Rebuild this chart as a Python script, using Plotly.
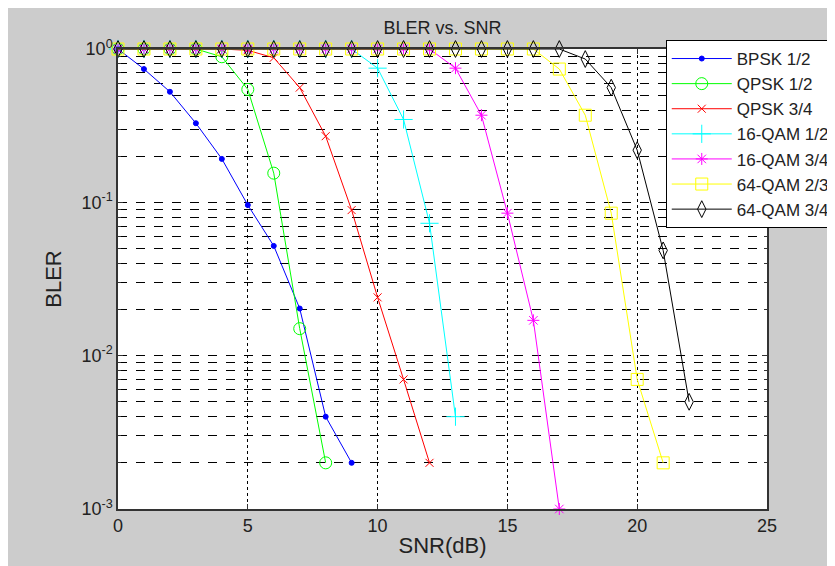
import plotly.graph_objects as go

# BLER vs SNR (SNR in dB starts at 0 for every curve)
bpsk_12 = [1.0, 0.74, 0.526, 0.328, 0.192, 0.096, 0.052, 0.0203, 0.004, 0.002]
qpsk_12 = [1.0, 1.0, 1.0, 1.0, 0.89, 0.545, 0.155, 0.015, 0.002]
qpsk_34 = [1.0, 1.0, 1.0, 1.0, 1.0, 0.98, 0.877, 0.56, 0.27, 0.089, 0.024, 0.007, 0.002]
qam16_12 = [1.0, 1.0, 1.0, 1.0, 1.0, 1.0, 1.0, 1.0, 1.0, 1.0, 0.75, 0.347, 0.073, 0.004]
qam16_34 = [1.0, 1.0, 1.0, 1.0, 1.0, 1.0, 1.0, 1.0, 1.0, 1.0, 1.0, 1.0, 1.0,
            0.75, 0.37, 0.085, 0.017, 0.001]
qam64_23 = [1.0, 1.0, 1.0, 1.0, 1.0, 1.0, 1.0, 1.0, 1.0, 1.0, 1.0, 1.0, 1.0, 1.0,
            1.0, 1.0, 1.0, 0.74, 0.37, 0.085, 0.007, 0.002]
qam64_34 = [1.0, 1.0, 1.0, 1.0, 1.0, 1.0, 1.0, 1.0, 1.0, 1.0, 1.0, 1.0, 1.0, 1.0,
            1.0, 1.0, 1.0, 1.0, 0.86, 0.56, 0.219, 0.0486, 0.005]

names = ["BPSK 1/2", "QPSK 1/2", "QPSK 3/4", "16-QAM 1/2", "16-QAM 3/4", "64-QAM 2/3", "64-QAM 3/4"]
series = [bpsk_12, qpsk_12, qpsk_34, qam16_12, qam16_34, qam64_23, qam64_34]
colors = ["#0000ff", "#00ff00", "#ff0000", "#00ffff", "#ff00ff", "#ffff00", "#000000"]
symbols = ["circle", "circle-open", "x-thin-open", "cross-thin-open", "asterisk-open",
           "square-open", "diamond-tall-open"]
sizes = [5, 12, 8, 13, 10, 12, 12]

y_ticks = [1, 0.1, 0.01, 0.001]
y_ticktext = ["10<sup>0</sup>", "10<sup>-1</sup>", "10<sup>-2</sup>", "10<sup>-3</sup>"]
y_minor = [m * 10 ** e for e in (-3, -2, -1) for m in range(2, 10)]

FONT = "Liberation Sans, Arial, sans-serif"

fig = go.Figure()
for name, ys, col, sym, sz in zip(names, series, colors, symbols, sizes):
    fig.add_trace(go.Scatter(
        x=list(range(len(ys))), y=ys, mode="lines+markers", name=name,
        line=dict(color=col, width=1),
        marker=dict(symbol=sym, size=sz, color=col, line=dict(color=col, width=1)),
        cliponaxis=False,
    ))

fig.update_layout(
    width=835, height=566,
    paper_bgcolor="#cccccc", plot_bgcolor="white",
    font=dict(family=FONT, size=18, color="#222222"),
    margin=dict(l=110, r=76, t=41, b=65, autoexpand=False),
    title=dict(text="BLER vs. SNR", xref="paper", x=0.5, xanchor="center",
               y=0.965, yanchor="middle", font=dict(size=18)),
    legend=dict(x=0.844, y=1.0196, xanchor="left", yanchor="top",
                bgcolor="white", bordercolor="black", borderwidth=1,
                font=dict(size=17), itemwidth=60, tracegroupgap=0),
)
fig.update_xaxes(
    range=[0, 25], dtick=5, tick0=0,
    showline=True, linecolor="#333333", linewidth=1.5, mirror="ticks",
    ticks="inside", ticklen=5, tickcolor="#333333",
    showgrid=True, gridcolor="black", griddash="dot", gridwidth=1,
    zeroline=False,
    title=dict(text="SNR(dB)", standoff=2),
)
fig.update_yaxes(
    type="log", range=[-3, 0],
    tickmode="array", tickvals=y_ticks, ticktext=y_ticktext,
    showline=True, linecolor="#333333", linewidth=1.5, mirror="ticks",
    ticks="inside", ticklen=5, tickcolor="#333333",
    showgrid=True, gridcolor="black", griddash="dash", gridwidth=1,
    minor=dict(tickmode="array", tickvals=y_minor, ticks="inside", ticklen=3,
               tickcolor="#333333", showgrid=True, gridcolor="black", griddash="dash",
               gridwidth=1),
    zeroline=False,
    title=dict(text="BLER", standoff=14),
)

fig.write_html("out.html")
